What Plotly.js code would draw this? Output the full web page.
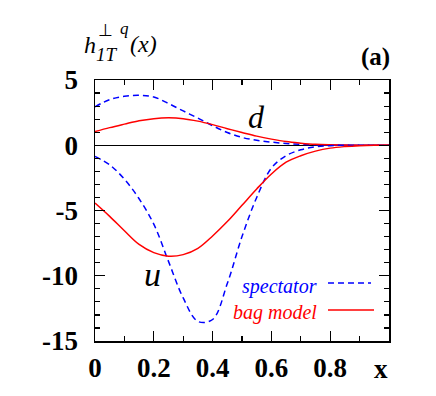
<!DOCTYPE html>
<html>
<head>
<meta charset="utf-8">
<script src="https://cdn.plot.ly/plotly-3.0.1.min.js"></script>
<style>
  body { margin: 0; background: #fff; }
  #chart { width: 436px; height: 396px; }
</style>
</head>
<body>
<div id="chart"></div>
<script>
// x grid shared by all four curves
var xs = [0, 0.05, 0.1, 0.15, 0.2, 0.25, 0.3, 0.35, 0.4, 0.45, 0.5,
          0.55, 0.6, 0.65, 0.7, 0.75, 0.8, 0.85, 0.9, 0.95, 1.0];

// d quark
var dSpectator = [2.95, 3.5, 3.75, 3.83, 3.7, 3.2, 2.63, 2.08, 1.5, 0.98, 0.6,
                  0.38, 0.24, 0.14, 0.07, 0.03, 0.01, 0, 0, 0, 0];
var dBag = [1.05, 1.35, 1.62, 1.88, 2.04, 2.1, 2.04, 1.85, 1.58, 1.27, 0.98,
            0.7, 0.47, 0.28, 0.16, 0.07, 0.03, 0.01, 0, 0, 0];

// u quark
var uSpectator = [-0.86, -1.5, -2.6, -4.1, -6.05, -8.9, -11.7, -13.5, -13.35, -10.6, -7.0,
                  -4.0, -1.75, -0.8, -0.35, -0.12, -0.03, 0, 0, 0, 0];
var uBag = [-4.43, -5.45, -6.55, -7.6, -8.23, -8.5, -8.38, -7.9, -6.95, -5.85, -4.6,
            -3.35, -2.2, -1.3, -0.8, -0.45, -0.22, -0.1, -0.03, 0, 0];

var xTicks = [0, 0.2, 0.4, 0.6, 0.8];
var xTickText = ["0", "0.2", "0.4", "0.6", "0.8"];
var yTicks = [-15, -10, -5, 0, 5];
var yTickText = ["-15", "-10", "-5", "0", "5"];

var serif = "'Liberation Serif', 'Times New Roman', Times, serif";
var blue = "#0000ff", red = "#ff0000";

function curve(y, color, dash) {
  return {
    x: xs, y: y, type: "scatter", mode: "lines",
    line: {color: color, width: 1.5, dash: dash, shape: "spline", smoothing: 1},
    hoverinfo: "skip"
  };
}

var data = [
  curve(dSpectator, blue, "6px,4px"),
  curve(dBag, red, "solid"),
  curve(uSpectator, blue, "6px,4px"),
  curve(uBag, red, "solid")
];

// pixel -> paper helpers for placing text (plot area 95..389 x 80.5..341)
function px(p) { return (p - 95) / 294; }
function py(p) { return (341 - p) / 260.5; }

function label(text, x, y, size, color, opts) {
  var a = {
    text: text, x: px(x), y: py(y), xref: "paper", yref: "paper",
    showarrow: false, xanchor: "center", yanchor: "middle",
    font: {family: serif, size: size, color: color || "#000"}
  };
  for (var k in opts) a[k] = opts[k];
  return a;
}

var axisCommon = {
  showgrid: false,
  showline: true, linecolor: "#000", linewidth: 1.5,
  mirror: "ticks", ticks: "inside", ticklen: 10, tickwidth: 1.2, tickcolor: "#000",
  tickfont: {family: serif, size: 27, color: "#000", weight: "bold"}
};

var layout = {
  width: 436, height: 396,
  margin: {l: 95, r: 47, t: 80, b: 55},
  paper_bgcolor: "#fff", plot_bgcolor: "#fff",
  font: {family: serif},
  showlegend: false,
  xaxis: Object.assign({}, axisCommon, {
    range: [0, 1], tickvals: xTicks, ticktext: xTickText,
    zeroline: false, ticklabelstandoff: 2,
    minor: {dtick: 0.1, tick0: 0, ticks: "inside", ticklen: 5, tickwidth: 1.2, tickcolor: "#000"}
  }),
  yaxis: Object.assign({}, axisCommon, {
    range: [-15, 5], tickvals: yTicks, ticktext: yTickText,
    zeroline: true, zerolinecolor: "#000", zerolinewidth: 1, ticklabelstandoff: 10,
    minor: {dtick: 1, tick0: 0, ticks: "inside", ticklen: 5, tickwidth: 1.2, tickcolor: "#000"}
  }),
  annotations: [
    label("<i>h</i>", 90, 46, 24),
    label("<i>1T</i>", 107, 55, 19),
    label("\u22a5", 105, 31, 17),
    label("<i>q</i>", 124, 29, 17),
    label("<i>(x)</i>", 143, 45, 24),
    label("<b>(a)</b>", 375, 58, 25),
    label("<i>d</i>", 256, 117, 32),
    label("<i>u</i>", 152, 275, 34),
    label("<b>x</b>", 381, 369, 27),
    label("<i>spectator</i>", 319, 287, 20, blue, {xanchor: "right"}),
    label("<i>bag model</i>", 319, 313, 20, red, {xanchor: "right"})
  ],
  shapes: [
    {type: "line", xref: "paper", yref: "paper", x0: px(328), x1: px(371), y0: py(283), y1: py(283),
     line: {color: blue, width: 1.5, dash: "6px,4px"}},
    {type: "line", xref: "paper", yref: "paper", x0: px(328), x1: px(374), y0: py(310), y1: py(310),
     line: {color: red, width: 1.5}}
  ]
};

Plotly.newPlot("chart", data, layout, {staticPlot: true});
</script>
</body>
</html>
